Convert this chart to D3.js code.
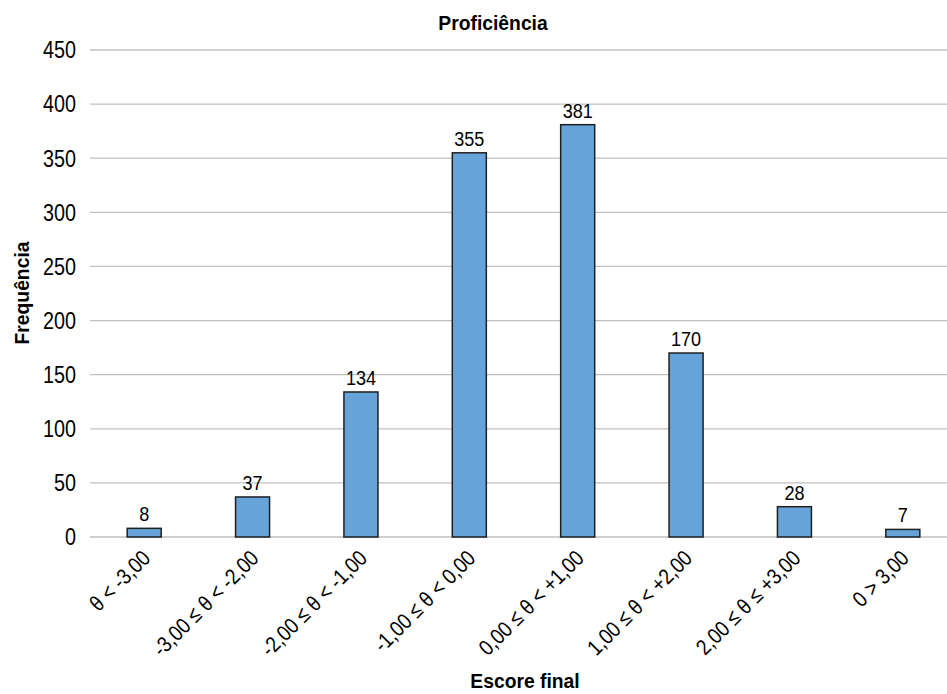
<!DOCTYPE html>
<html>
<head>
<meta charset="utf-8">
<script src="https://cdn.jsdelivr.net/npm/d3@7"></script>
<style>
  body { margin: 0; background: #fff; }
  svg { display: block; }
  text { font-family: "Liberation Sans", Arial, sans-serif; fill: #000; }
</style>
</head>
<body>
<div id="chart"></div>
<script>
// categories and values
let categories = [
  'θ < -3,00',
  '-3,00 ≤ θ < -2,00',
  '-2,00 ≤ θ < -1,00',
  '-1,00 ≤ θ < 0,00',
  '0,00 ≤ θ < +1,00',
  '1,00 ≤ θ < +2,00',
  '2,00 ≤ θ ≤ +3,00',
  '0 > 3,00'
];
let frequencies = [8, 37, 134, 355, 381, 170, 28, 7];
let yTicks = [0, 50, 100, 150, 200, 250, 300, 350, 400, 450];

let width = 947, height = 694;
let margin = { top: 50, right: -10, bottom: 157, left: 90 };
// the original font is a narrow one, so squeeze Liberation Sans a bit
let squeeze = 0.86;

let svg = d3.select('#chart')
  .append('svg')
  .attr('width', width)
  .attr('height', height);

let xScale = d3.scaleBand()
  .domain(categories)
  .range([margin.left, width - margin.right])
  .paddingInner(0.686)
  .paddingOuter(0.343);

let yScale = d3.scaleLinear()
  .domain([0, 450])
  .range([height - margin.bottom, margin.top]);

// gridlines
svg.append('g')
  .selectAll('line')
  .data(yTicks)
  .enter()
  .append('line')
  .attr('x1', margin.left)
  .attr('x2', width - margin.right)
  .attr('y1', d => yScale(d))
  .attr('y2', d => yScale(d))
  .attr('stroke', '#bfbfbf')
  .attr('stroke-width', 1.3);

// y axis labels
svg.append('g')
  .selectAll('text')
  .data(yTicks)
  .enter()
  .append('text')
  .attr('transform', d => 'translate(' + (margin.left - 14) + ',' + yScale(d) + ') scale(' + squeeze + ',1)')
  .attr('dy', '0.36em')
  .attr('text-anchor', 'end')
  .style('font-size', '23px')
  .text(d => d);

// bars
svg.selectAll('.bar')
  .data(frequencies)
  .enter()
  .append('rect')
  .attr('class', 'bar')
  .attr('x', (d, i) => xScale(categories[i]))
  .attr('width', xScale.bandwidth())
  .attr('y', d => yScale(d))
  .attr('height', d => yScale(0) - yScale(d))
  .attr('fill', '#66a3d9')
  .attr('stroke', '#1f1f1f')
  .attr('stroke-width', 1.5);

// value labels
svg.selectAll('.value')
  .data(frequencies)
  .enter()
  .append('text')
  .attr('class', 'value')
  .attr('transform', (d, i) => 'translate(' + (xScale(categories[i]) + xScale.bandwidth() / 2) + ',' + (yScale(d) - 7) + ') scale(' + squeeze + ',1)')
  .attr('text-anchor', 'middle')
  .style('font-size', '21px')
  .text(d => d);

// x axis labels, rotated
svg.append('g')
  .selectAll('text')
  .data(categories)
  .enter()
  .append('text')
  .attr('transform', d => 'translate(' + (xScale(d) + xScale.bandwidth() / 2 + 2) + ',' + (yScale(0) + 17) + ') rotate(-45) scale(' + squeeze + ',1)')
  .attr('text-anchor', 'end')
  .attr('dy', '0.35em')
  .style('font-size', '22px')
  .text(d => d);

// title and axis titles
function boldTitle(text, tx, ty, angle) {
  svg.append('text')
    .attr('transform', 'translate(' + tx + ',' + ty + ') rotate(' + angle + ') scale(0.92,1)')
    .attr('text-anchor', 'middle')
    .style('font-size', '21px')
    .style('font-weight', 'bold')
    .text(text);
}
boldTitle('Proficiência', 493, 30, 0);
boldTitle('Escore final', 525, 688, 0);
boldTitle('Frequência', 29, 293, -90);
</script>
</body>
</html>
